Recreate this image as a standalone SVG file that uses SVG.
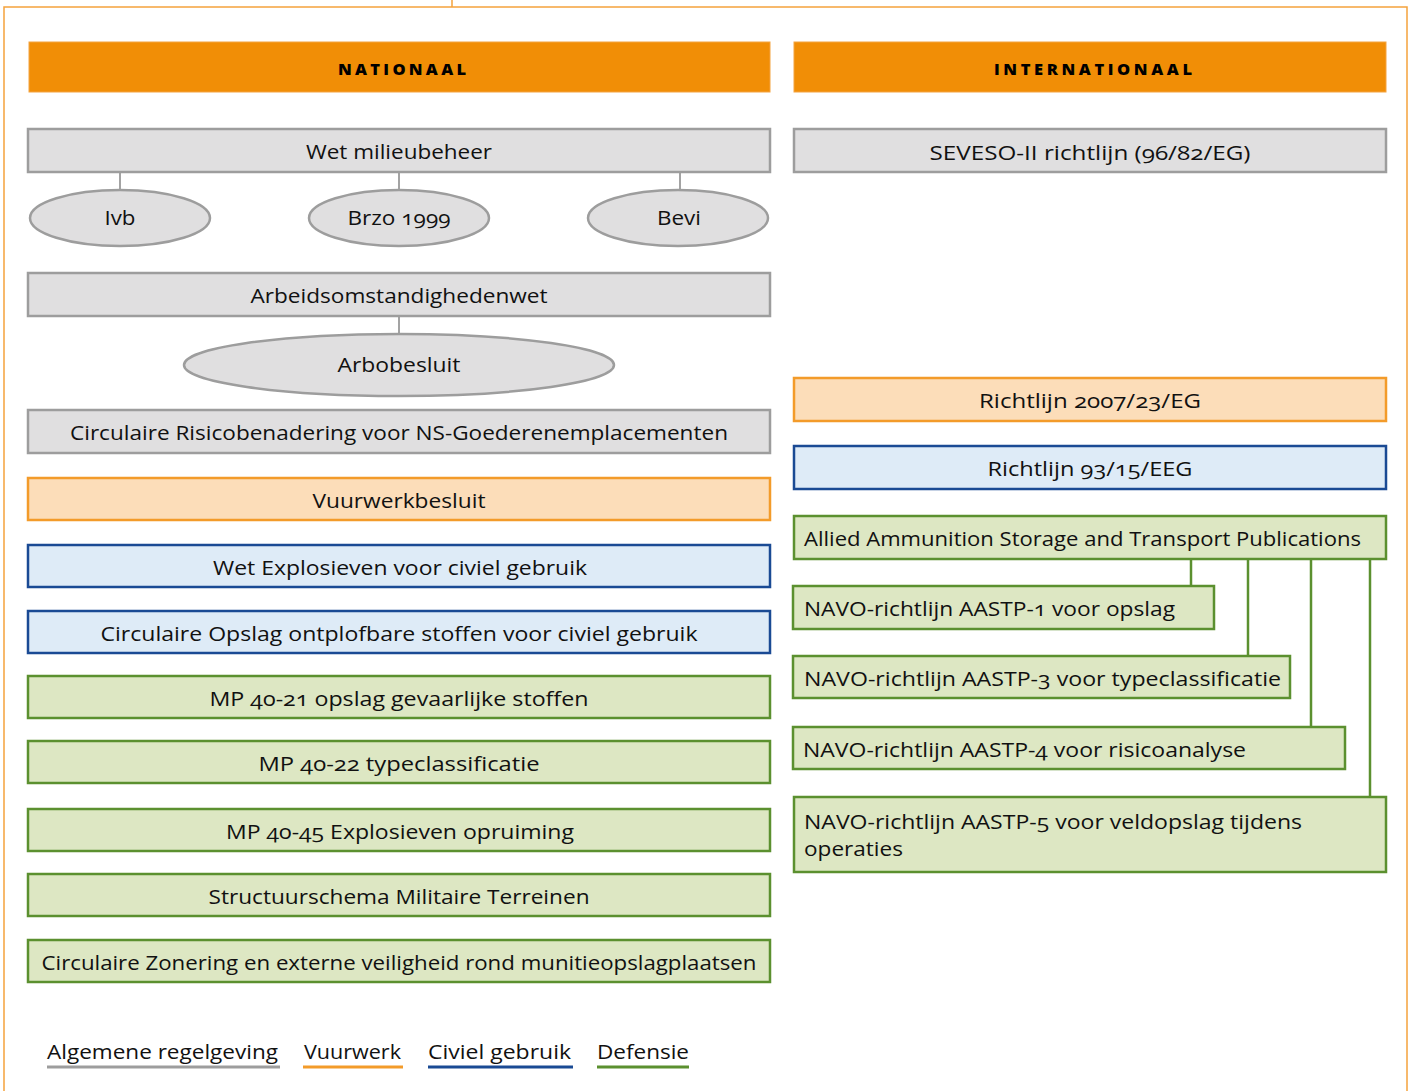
<svg xmlns="http://www.w3.org/2000/svg" width="1413" height="1091" viewBox="0 0 1413 1091">
<style>
text{font-family:"Open Sans","Noto Sans","Liberation Sans",sans-serif;font-size:20px;fill:#111;font-variant-numeric:oldstyle-nums;font-feature-settings:"onum" 1;}
.c{text-anchor:middle;}
.hdr{font-weight:800;font-size:16.5px;text-anchor:middle;fill:#000;}
.hbar{fill:#F18E06;stroke:#F4A340;stroke-width:1;}
.g{fill:#E0DFE0;stroke:#9D9D9D;stroke-width:2.5;}
.o{fill:#FCDDB9;stroke:#F39B2A;stroke-width:2.5;}
.b{fill:#DEEBF7;stroke:#1A4A94;stroke-width:2.5;}
.v{fill:#DDE7C3;stroke:#5B902F;stroke-width:2.5;}
.gl{stroke:#A3A3A3;stroke-width:2;fill:none;}
.vl{stroke:#5B902F;stroke-width:2.5;fill:none;}
</style>
<path d="M452,0 V7 M4,1091 V7 H1407 V1091" fill="none" stroke="#F5A33D" stroke-width="1.5"/>

<g id="connectors">
<line class="gl" x1="120" y1="172" x2="120" y2="190"/>
<line class="gl" x1="399" y1="172" x2="399" y2="190"/>
<line class="gl" x1="680" y1="172" x2="680" y2="190"/>
<line class="gl" x1="399" y1="316" x2="399" y2="334"/>
<line class="vl" x1="1191" y1="559" x2="1191" y2="586"/>
<line class="vl" x1="1248" y1="559" x2="1248" y2="656"/>
<line class="vl" x1="1311" y1="559" x2="1311" y2="727"/>
<line class="vl" x1="1370" y1="559" x2="1370" y2="797"/>
</g>

<g id="hdr-nationaal"><rect class="hbar" x="29" y="42" width="741" height="50"/><text class="hdr" x="402" y="75" textLength="128" lengthAdjust="spacing">NATIONAAL</text></g>
<g id="hdr-internationaal"><rect class="hbar" x="794" y="42" width="592" height="50"/><text class="hdr" x="1093" y="75" textLength="198" lengthAdjust="spacing">INTERNATIONAAL</text></g>

<g id="wm"><rect class="g" x="28" y="129" width="742" height="43"/><text class="c" x="399" y="159" textLength="186" lengthAdjust="spacingAndGlyphs">Wet milieubeheer</text></g>
<g id="ivb"><ellipse class="g" cx="120" cy="218" rx="90" ry="28"/><text class="c" x="120" y="225" textLength="31" lengthAdjust="spacingAndGlyphs">Ivb</text></g>
<g id="brzo"><ellipse class="g" cx="399" cy="218" rx="90" ry="28"/><text class="c" x="399" y="225" textLength="103" lengthAdjust="spacingAndGlyphs">Brzo 1999</text></g>
<g id="bevi"><ellipse class="g" cx="678" cy="218" rx="90" ry="28"/><text class="c" x="679" y="225" textLength="44" lengthAdjust="spacingAndGlyphs">Bevi</text></g>
<g id="arbo"><rect class="g" x="28" y="273" width="742" height="43"/><text class="c" x="399" y="303" textLength="297" lengthAdjust="spacingAndGlyphs">Arbeidsomstandighedenwet</text></g>
<g id="arbob"><ellipse class="g" cx="399" cy="365" rx="215" ry="31"/><text class="c" x="399" y="372" textLength="123" lengthAdjust="spacingAndGlyphs">Arbobesluit</text></g>
<g id="crns"><rect class="g" x="28" y="410" width="742" height="43"/><text class="c" x="399" y="440" textLength="658" lengthAdjust="spacingAndGlyphs">Circulaire Risicobenadering voor NS-Goederenemplacementen</text></g>
<g id="vwb"><rect class="o" x="28" y="478" width="742" height="42"/><text class="c" x="399" y="508" textLength="173" lengthAdjust="spacingAndGlyphs">Vuurwerkbesluit</text></g>
<g id="wecg"><rect class="b" x="28" y="545" width="742" height="42"/><text class="c" x="400" y="575" textLength="374" lengthAdjust="spacingAndGlyphs">Wet Explosieven voor civiel gebruik</text></g>
<g id="cocg"><rect class="b" x="28" y="611" width="742" height="42"/><text class="c" x="399" y="641" textLength="597" lengthAdjust="spacingAndGlyphs">Circulaire Opslag ontplofbare stoffen voor civiel gebruik</text></g>
<g id="mp4021"><rect class="v" x="28" y="676" width="742" height="42"/><text class="c" x="399" y="706" textLength="379" lengthAdjust="spacingAndGlyphs">MP 40-21 opslag gevaarlijke stoffen</text></g>
<g id="mp4022"><rect class="v" x="28" y="741" width="742" height="42"/><text class="c" x="399" y="771" textLength="281" lengthAdjust="spacingAndGlyphs">MP 40-22 typeclassificatie</text></g>
<g id="mp4045"><rect class="v" x="28" y="809" width="742" height="42"/><text class="c" x="400" y="839" textLength="348" lengthAdjust="spacingAndGlyphs">MP 40-45 Explosieven opruiming</text></g>
<g id="smt"><rect class="v" x="28" y="874" width="742" height="42"/><text class="c" x="399" y="904" textLength="381" lengthAdjust="spacingAndGlyphs">Structuurschema Militaire Terreinen</text></g>
<g id="czev"><rect class="v" x="28" y="940" width="742" height="42"/><text class="c" x="399" y="970" textLength="715" lengthAdjust="spacingAndGlyphs">Circulaire Zonering en externe veiligheid rond munitieopslagplaatsen</text></g>

<g id="seveso"><rect class="g" x="794" y="129" width="592" height="43"/><text class="c" x="1090" y="160" textLength="321" lengthAdjust="spacingAndGlyphs">SEVESO-II richtlijn (96/82/EG)</text></g>
<g id="r2007"><rect class="o" x="794" y="378" width="592" height="43"/><text class="c" x="1090" y="408" textLength="222" lengthAdjust="spacingAndGlyphs">Richtlijn 2007/23/EG</text></g>
<g id="r9315"><rect class="b" x="794" y="446" width="592" height="43"/><text class="c" x="1090" y="476" textLength="205" lengthAdjust="spacingAndGlyphs">Richtlijn 93/15/EEG</text></g>
<g id="aastp"><rect class="v" x="794" y="516" width="592" height="43"/><text x="804" y="546" textLength="557" lengthAdjust="spacingAndGlyphs">Allied Ammunition Storage and Transport Publications</text></g>
<g id="aastp1"><rect class="v" x="793" y="586" width="421" height="43"/><text x="804" y="616" textLength="371" lengthAdjust="spacingAndGlyphs">NAVO-richtlijn AASTP-1 voor opslag</text></g>
<g id="aastp3"><rect class="v" x="793" y="656" width="497" height="42"/><text x="804" y="686" textLength="477" lengthAdjust="spacingAndGlyphs">NAVO-richtlijn AASTP-3 voor typeclassificatie</text></g>
<g id="aastp4"><rect class="v" x="793" y="727" width="552" height="42"/><text x="803" y="757" textLength="443" lengthAdjust="spacingAndGlyphs">NAVO-richtlijn AASTP-4 voor risicoanalyse</text></g>
<g id="aastp5"><rect class="v" x="794" y="797" width="592" height="75"/><text x="804" y="829" textLength="498" lengthAdjust="spacingAndGlyphs">NAVO-richtlijn AASTP-5 voor veldopslag tijdens</text><text x="804" y="856" textLength="99" lengthAdjust="spacingAndGlyphs">operaties</text></g>

<g id="legend">
<text x="47" y="1059" textLength="231" lengthAdjust="spacingAndGlyphs">Algemene regelgeving</text>
<line x1="47" y1="1067" x2="280" y2="1067" stroke="#9D9D9D" stroke-width="3"/>
<text x="304" y="1059" textLength="97" lengthAdjust="spacingAndGlyphs">Vuurwerk</text>
<line x1="303" y1="1067" x2="403" y2="1067" stroke="#F39B2A" stroke-width="3"/>
<text x="428" y="1059" textLength="143" lengthAdjust="spacingAndGlyphs">Civiel gebruik</text>
<line x1="428" y1="1067" x2="573" y2="1067" stroke="#1A4A94" stroke-width="3"/>
<text x="597" y="1059" textLength="92" lengthAdjust="spacingAndGlyphs">Defensie</text>
<line x1="597" y1="1067" x2="689" y2="1067" stroke="#5B902F" stroke-width="3"/>
</g>
</svg>
